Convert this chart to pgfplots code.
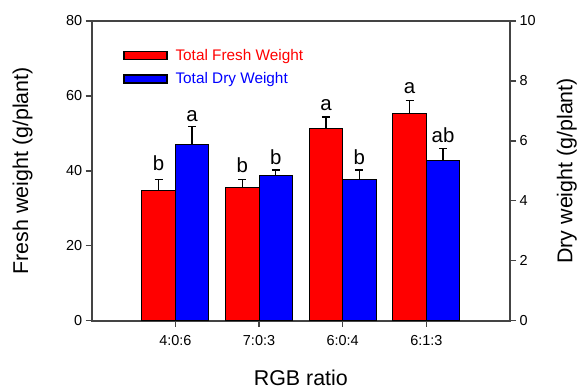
\documentclass[border=0pt]{standalone}
\usepackage{pgfplots}
\pgfplotsset{compat=1.18}
\usepackage{fontspec}
\setmainfont{Liberation Sans}
\definecolor{axgray}{HTML}{444444}
\pgfplotsset{
  mylegend/.style={legend image code/.code={\draw[##1,draw=black,line width=1.2bp] (0bp,-4bp) rectangle (43bp,4bp); \path (49bp,0bp);}},
  myerr/.style={error bars/.cd, y dir=plus, y explicit,
    error bar style={line width=1.3bp,black},
    error mark options={rotate=90,mark size=4bp,line width=1.3bp,black}},
  common/.style={
    at={(91.7bp,67.3bp)}, anchor=south west,
    scale only axis, width=418.3bp, height=299.7bp,
    xmin=-1, xmax=4,
    tick align=outside, major tick length=6bp,
    axis line style={line width=1.6bp, axgray},
    every tick/.style={line width=1.3bp, axgray},
    tick label style={font=\fontsize{14.5}{16}\selectfont},
    /pgf/number format/assume math mode=true,
    label style={font=\fontsize{21.5}{24}\selectfont},
  }
}
\begin{document}
\begin{tikzpicture}
\useasboundingbox (0,0) rectangle (579bp,388bp);
\begin{axis}[common,
  ymin=0, ymax=80, ytick={0,20,40,60,80},
  xtick={0,1,2,3}, xticklabels={4:0:6,7:0:3,6:0:4,6:1:3},
  xtick pos=lower, ytick pos=left,
  xticklabel style={yshift=-5bp},
  ylabel={Fresh weight (g/plant)}, xlabel={RGB ratio},
  ylabel style={at={(axis description cs:-0.165,0.5)}, anchor=center},
  xlabel style={at={(axis description cs:0.5,-0.2146)}, anchor=base},
  legend cell align=left,
  legend style={draw=none, fill=none, at={(axis description cs:0.0755,0.912)}, anchor=north west,
    inner sep=0pt, font=\fontsize{15.4}{17}\selectfont, row sep=6.5bp},
]
\addplot[ybar, bar width=0.4, bar shift=0, fill=red, draw=black, line width=0.9bp, mylegend, myerr]
  coordinates {(-0.2,34.8) +- (0,2.9) (0.8,35.6) +- (0,2.1) (1.8,51.4) +- (0,3.0) (2.8,55.4) +- (0,3.3)};
\addlegendentry{\textcolor{red}{Total Fresh Weight}}
\addlegendimage{mylegend, fill=blue}
\addlegendentry{\textcolor{blue}{Total Dry Weight}}
\begin{scope}[every node/.style={font=\fontsize{20.5}{22}\selectfont, anchor=base, inner sep=0pt}]
\node at (axis cs:-0.2,40.0) {b};
\node at (axis cs:0.2,53.3) {a};
\node at (axis cs:0.8,39.6) {b};
\node at (axis cs:1.2,41.75) {b};
\node at (axis cs:1.8,56.0) {a};
\node at (axis cs:2.2,41.75) {b};
\node at (axis cs:2.8,60.7) {a};
\node at (axis cs:3.2,47.5) {ab};
\end{scope}
\end{axis}
\begin{axis}[common,
  ymin=0, ymax=10, ytick={0,2,4,6,8,10},
  axis x line=none, axis y line*=right,
  ylabel={Dry weight (g/plant)},
  ylabel style={at={(axis description cs:1.136,0.5)}, anchor=center, rotate=0},
]
\addplot[ybar, bar width=0.4, bar shift=0, fill=blue, draw=black, line width=0.9bp, myerr]
  coordinates {(0.2,5.89) +- (0,0.59) (1.2,4.83) +- (0,0.20) (2.2,4.71) +- (0,0.32) (3.2,5.34) +- (0,0.41)};
\end{axis}
\end{tikzpicture}
\end{document}
